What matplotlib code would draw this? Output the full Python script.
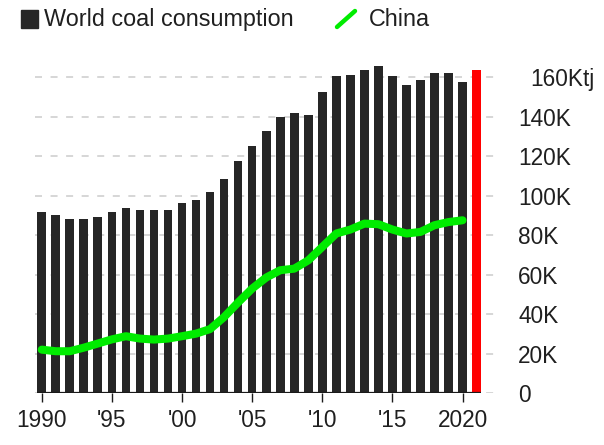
import matplotlib
matplotlib.use("Agg")
import matplotlib.pyplot as plt
import matplotlib.patches as mpatches
from matplotlib.lines import Line2D
from matplotlib.transforms import ScaledTranslation

plt.rcParams["font.family"] = ["Liberation Sans", "DejaVu Sans"]

# values in thousand tj
years = list(range(1990, 2022))
world = [91.9, 90.2, 88.4, 88.4, 89.4, 91.9, 93.6, 92.8, 92.8, 92.8,
         96.3, 98.1, 101.7, 108.6, 117.5, 125.1, 132.8, 139.9, 141.8, 141.0,
         152.5, 160.5, 161.2, 163.9, 165.7, 160.5, 156.0, 158.6, 162.2, 162.2,
         157.6, 163.9]
china_years = list(range(1990, 2021))
china = [22.1, 21.3, 21.3, 23.1, 25.2, 27.3, 28.9, 27.7, 27.2, 27.7,
         28.9, 30.2, 32.5, 38.6, 46.0, 53.0, 58.6, 62.3, 63.1, 67.3,
         74.1, 80.9, 82.9, 85.9, 85.6, 82.9, 80.9, 81.7, 85.1, 86.7, 87.6]

y_ticks = [0, 20, 40, 60, 80, 100, 120, 140, 160]
y_labels = ["0", "20K", "40K", "60K", "80K", "100K", "120K", "140K", "160Ktj"]
x_ticks = [1990, 1995, 2000, 2005, 2010, 2015, 2020]
x_labels = ["1990", "'95", "'00", "'05", "'10", "'15", "2020"]

bar_colour = "#262626"
latest_colour = "#ff0000"
green = "#00ec00"
text_colour = "#1f1f1f"
fs = 16.3

fig = plt.figure(figsize=(6.04, 4.45), dpi=100)
ax = fig.add_axes([35 / 604, 51.7 / 445, 465 / 604, 0.7546])

bar_w = 0.62
colours = [bar_colour] * (len(years) - 1) + [latest_colour]
ax.bar(years, world, width=bar_w, color=colours, zorder=2)
ax.plot(china_years, china, color=green, lw=5.8, zorder=3,
        solid_joinstyle="round", solid_capstyle="round")

# baseline only under the bars
ax.hlines(0, years[0] - bar_w / 2, years[-1] + bar_w / 2, color="#1a1a1a", lw=1.6, zorder=4)

ax.set_xlim(1989.52, 2022.67)
ax.set_ylim(0, 170)

for s in ax.spines.values():
    s.set_visible(False)

ax.set_yticks(y_ticks)
ax.set_yticklabels(y_labels)
ax.yaxis.tick_right()
ax.tick_params(axis="y", length=0, pad=13, labelsize=fs, labelcolor=text_colour)
ax.grid(axis="y", color="#d6d6d6", lw=1.4, linestyle=(0, (3.6, 4.4)), zorder=0)

# top label sits a little further right
top_label = ax.get_yticklabels()[-1]
top_label.set_transform(top_label.get_transform() + ScaledTranslation(12 / 100, 0, fig.dpi_scale_trans))

ax.set_xticks(x_ticks)
ax.set_xticklabels(x_labels)
ax.tick_params(axis="x", length=6.5, width=1.0, color="#1a1a1a", pad=4.5,
               labelsize=fs, labelcolor=text_colour)

# legend drawn in figure pixels
def px(x, y):
    return x / 604, 1 - y / 445

fig.patches.append(mpatches.Rectangle(px(20.7, 27.7), 17.5 / 604, 17.5 / 445,
                                      transform=fig.transFigure, color=bar_colour))
fig.text(*px(44, 19.5), "World coal consumption", fontsize=16.8, color=text_colour, va="center")
x0, y0 = px(337, 27)
x1, y1 = px(355, 11)
fig.lines.append(Line2D([x0, x1], [y0, y1], transform=fig.transFigure, color=green,
                        lw=3.2, solid_capstyle="round"))
fig.text(*px(369, 19.5), "China", fontsize=16.8, color=text_colour, va="center")

fig.savefig("out.png", dpi=100)
